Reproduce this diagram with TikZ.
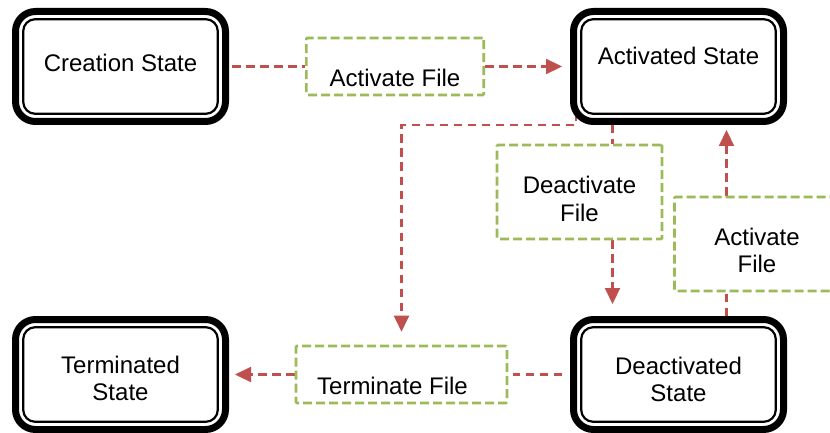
\documentclass[tikz,border=0pt]{standalone}
\usepackage{fontspec}
\setmainfont{Liberation Sans}
\usetikzlibrary{arrows.meta,backgrounds}
\definecolor{flowred}{HTML}{C0504D}
\definecolor{boxgreen}{HTML}{9BBB59}
\newcommand{\nudge}[2]{\raisebox{#1}[\height][\depth]{\begin{tabular}{@{}c@{}}#2\end{tabular}}}
\begin{document}
\begin{tikzpicture}[x=0.5pt,y=-0.5pt,font=\fontsize{12pt}{13.75pt}\selectfont,
  state/.style={draw, fill=white, line width=3.5pt, rounded corners=10pt, minimum width=105pt, minimum height=55pt, inner sep=0pt},
  action/.style={draw=boxgreen, fill=white, line width=1.3pt, dash pattern=on 4.5pt off 2pt, rounded corners=0.5pt, inner sep=0pt},
  flow/.style={draw=flowred, line width=1.1pt, dash pattern=on 4.25pt off 2.75pt},
  >={Triangle[length=8pt,width=7.5pt]}]
\useasboundingbox (0,0) rectangle (830,433);
\clip (0,0) rectangle (830,433);
% states
\node[state] (creation) at (120.5,66.5) {\nudge{0pt}{Creation State}};
\node[state] (activated) at (678.5,66.5) {\nudge{3.6pt}{Activated State}};
\node[state] (terminated) at (120.5,374.5) {\nudge{-3.6pt}{Terminated\\State}};
\node[state] (deactivated) at (678.5,374.5) {\nudge{-4.1pt}{Deactivated\\State}};
\foreach \s in {creation,activated,terminated,deactivated}
  \draw[line width=1.1pt, rounded corners=6pt] ([shift={(5.6pt,-5.6pt)}]\s.north west) rectangle ([shift={(-5.6pt,5.6pt)}]\s.south east);
% actions
\node[action, minimum width=88.7pt, minimum height=28.5pt] (activatefile) at (395,66.5) {\nudge{-7.3pt}{Activate File}};
\node[action, minimum width=82.5pt, minimum height=47pt] (deactivatefile) at (579.5,192) {\nudge{-5.1pt}{Deactivate\\File}};
\node[action, minimum width=82.5pt, minimum height=47pt] (reactivatefile) at (757,244) {\nudge{-4.85pt}{Activate\\File}};
\node[action, minimum width=105.5pt, minimum height=28.5pt] (terminatefile) at (401.5,374.5) {\nudge{-7.1pt}{Terminate File}\hspace*{9pt}};
% transitions
\begin{pgfonlayer}{background}
\draw[flow, shorten <=1.5pt] (creation.east) -- (activatefile.west);
\draw[flow, ->, shorten >=4pt] (activatefile.east) -- (activated.west);
\draw[flow] ([xshift=-33pt]activated.south) -- ([xshift=-33pt]activated.south |- deactivatefile.north);
\draw[flow, ->, shorten >=6pt] ([xshift=-33pt]deactivated.north |- deactivatefile.south) -- ([xshift=-33pt]deactivated.north);
\draw[flow] ([xshift=24pt]deactivated.north) -- ([xshift=24pt]deactivated.north |- reactivatefile.south);
\draw[flow, ->, shorten >=2.5pt] ([xshift=24pt]activated.south |- reactivatefile.north) -- ([xshift=24pt]activated.south);
\draw[flow, ->, shorten >=6.5pt] ([shift={(3pt,6pt)}]activated.south west) -- ([xshift=3pt]activated.south west) -| (terminatefile.north);
\draw[flow, shorten <=4pt, shorten >=2.5pt] (deactivated.west) -- (terminatefile.east);
\draw[flow, ->, shorten >=3pt] (terminatefile.west) -- (terminated.east);
\end{pgfonlayer}
\end{tikzpicture}
\end{document}
